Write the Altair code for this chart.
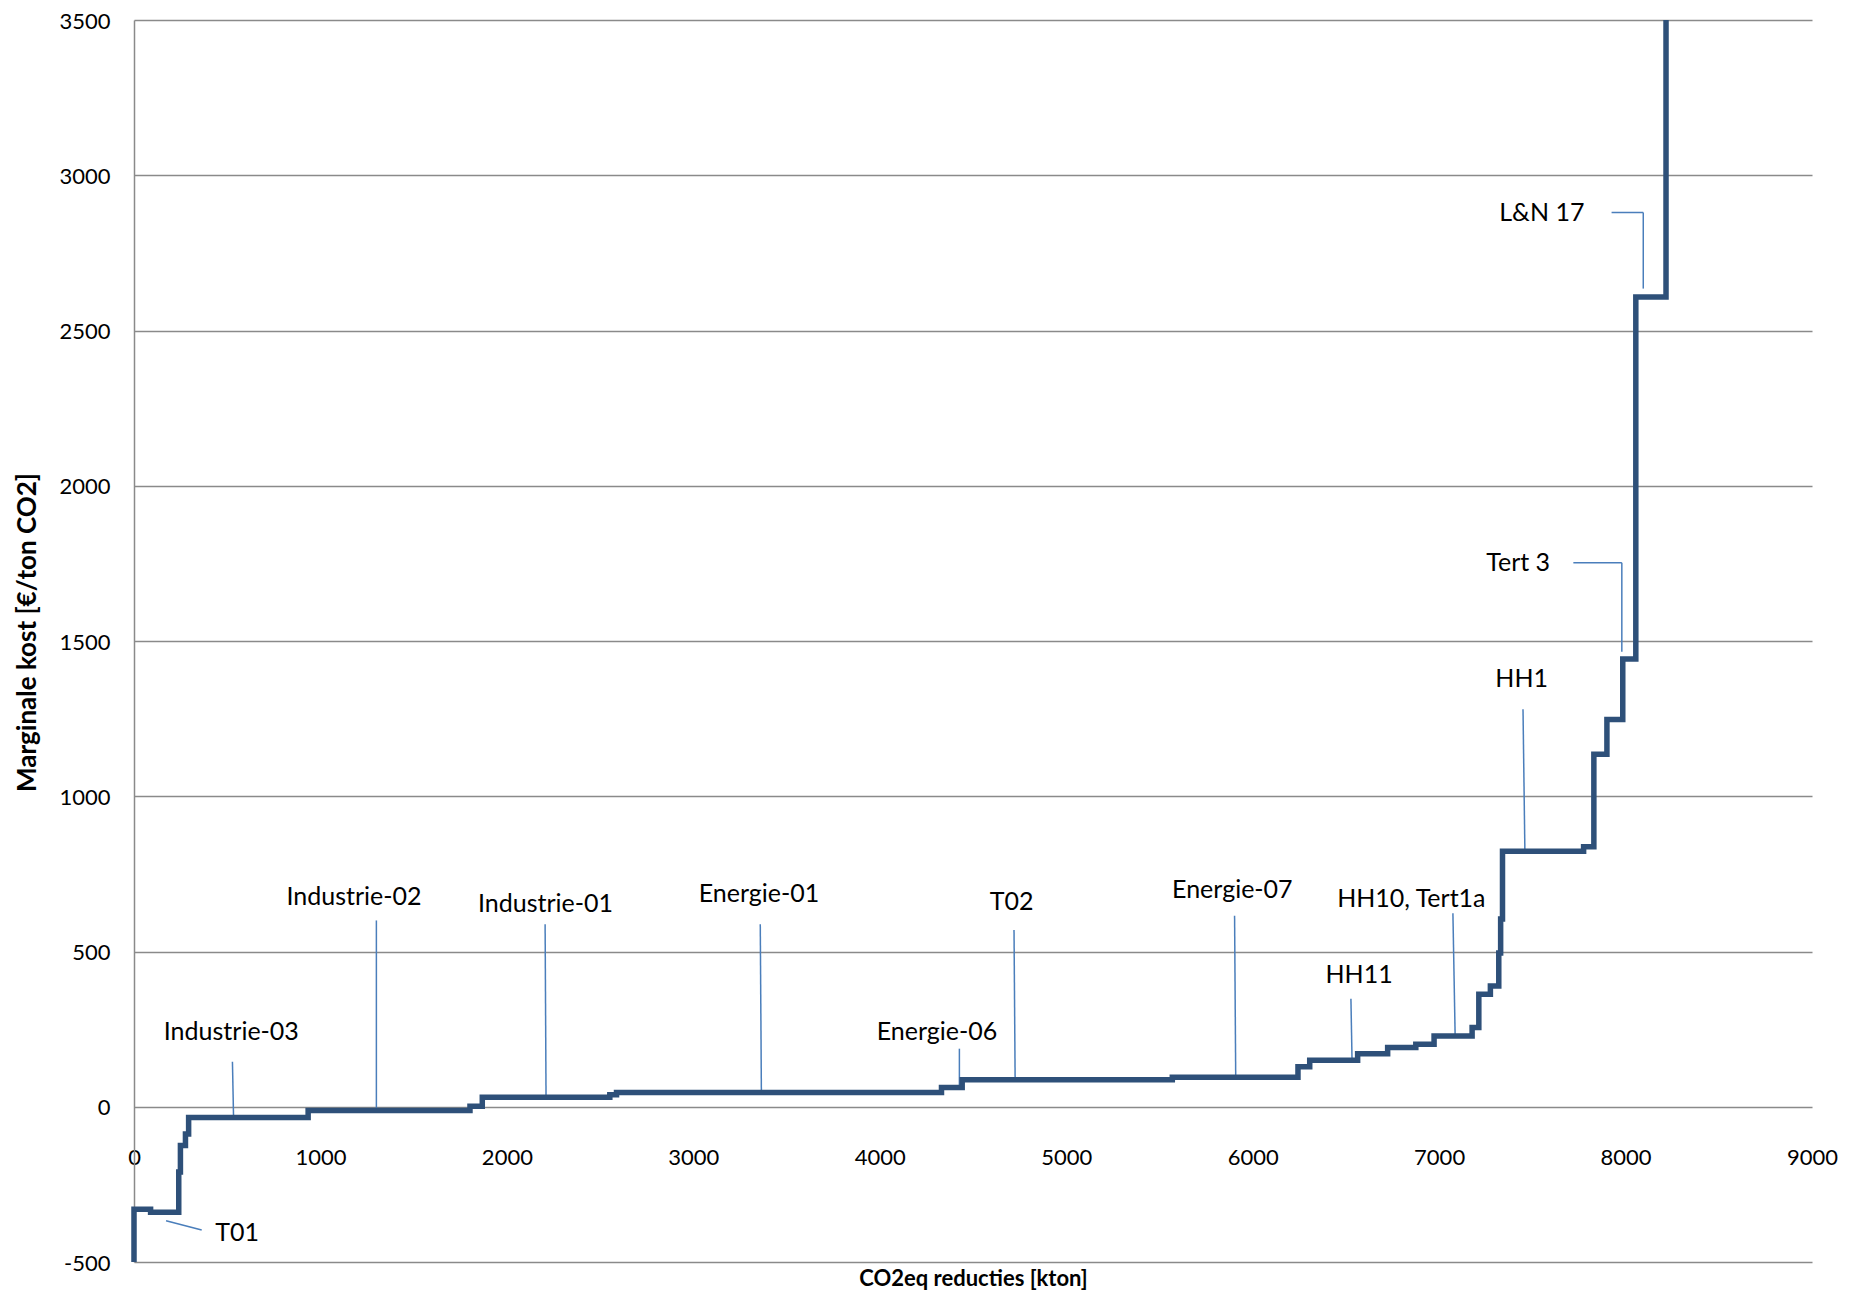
import altair as alt
import pandas as pd

# Step curve: start of each step (kton) and marginal cost (EUR/ton CO2)
step_x = [0, 0, 89, 240, 249, 276, 293, 934, 1802, 1868, 2552, 2588, 4331, 4442,
          5569, 6243, 6306, 6563, 6724, 6875, 6973, 7177, 7213, 7275, 7320, 7330,
          7340, 7775, 7830, 7900, 7985, 8055, 8217]
step_y = [-500, -330, -340, -210, -125, -88, -35, -12, 2, 31, 39, 46, 62, 87,
          95, 129, 150, 171, 191, 201, 228, 255, 362, 389, 495, 605,
          823, 837, 1135, 1247, 1442, 2608, 3500]

# Annotation labels
label_text = ["Industrie-03", "Industrie-02", "Industrie-01", "Energie-01", "Energie-06",
              "T02", "Energie-07", "HH11", "HH10, Tert1a", "HH1", "Tert 3", "L&N 17", "T01"]
label_x = [522, 1180, 2207, 3352, 4307, 4707, 5891, 6571, 6851, 7443, 7424, 7551, 553]
label_y = [241, 675, 653, 684, 241, 661, 699, 424, 668, 1379, 1750, 2880, -405]

# Leader lines
leader_x = [528, 1300, 2205, 3359, 4427, 4720, 5903, 6527, 7074, 7450, 7720, 7980, 7925, 8095, 172]
leader_y = [145, 600, 588, 588, 187, 569, 615, 348, 623, 1280, 1752, 1752, 2880, 2880, -367]
leader_x2 = [534, 1300, 2210, 3365, 4427, 4726, 5909, 6533, 7086, 7460, 7980, 7980, 8095, 8095, 363]
leader_y2 = [-35, -15, 34, 46, 62, 87, 97, 150, 228, 825, 1752, 1465, 2880, 2635, -397]

x_ticks = [0, 1000, 2000, 3000, 4000, 5000, 6000, 7000, 8000, 9000]
y_ticks = [-500, 0, 500, 1000, 1500, 2000, 2500, 3000, 3500]

step_df = pd.DataFrame({"x": step_x, "y": step_y, "i": list(range(len(step_x)))})
label_df = pd.DataFrame({"t": label_text, "x": label_x, "y": label_y})
leader_df = pd.DataFrame({"x": leader_x, "y": leader_y, "x2": leader_x2, "y2": leader_y2})

FONT = "Lato"
GRID = "#8a8a8a"

xs = alt.Scale(domain=[0, 9000], nice=False, zero=False)
ys = alt.Scale(domain=[-500, 3500], nice=False, zero=False)

x_axis = alt.Axis(values=x_ticks, title="CO2eq reducties [kton]", grid=False, domain=False,
                  ticks=False, tickSize=0, labelPadding=50, labelBaseline="middle",
                  labelExpr="'' + datum.value",
                  labelFont=FONT, labelFontSize=22, labelColor="black", offset=-155,
                  titleFont=FONT, titleFontSize=22, titleFontWeight="bold", titleColor="black",
                  titleY=171, titleBaseline="middle", labelFlush=False)
y_axis = alt.Axis(values=y_ticks, title="Marginale kost  [€/ton CO2]", grid=True, gridColor=GRID,
                  gridWidth=1.5, domain=True, domainColor=GRID, domainWidth=1.5,
                  ticks=False, tickSize=0, labelPadding=24,
                  labelExpr="'' + datum.value",
                  labelBaseline="alphabetic", labelOffset=8,
                  labelFont=FONT, labelFontSize=22, labelColor="black",
                  titleFont=FONT, titleFontSize=26, titleFontWeight="bold", titleColor="black",
                  titleX=-107, titleY=612, titleBaseline="middle", labelFlush=False)

line = alt.Chart(step_df).mark_line(interpolate="step-after", color="#2E5079",
                                    strokeWidth=5.5, strokeJoin="miter").encode(
    x=alt.X("x:Q", scale=xs, axis=x_axis),
    y=alt.Y("y:Q", scale=ys, axis=y_axis),
    order=alt.Order("i:Q"),
)

leaders = alt.Chart(leader_df).mark_rule(color="#4A7EBB", strokeWidth=1.5).encode(
    x=alt.X("x:Q", scale=xs), y=alt.Y("y:Q", scale=ys),
    x2="x2:Q", y2="y2:Q",
)

labels = alt.Chart(label_df).mark_text(font=FONT, fontSize=25, align="center",
                                       baseline="middle", color="black").encode(
    x=alt.X("x:Q", scale=xs), y=alt.Y("y:Q", scale=ys), text="t:N",
)

chart = alt.layer(leaders, line, labels).properties(
    width=1678, height=1242,
    padding={"left": 126, "top": 12, "right": 30, "bottom": 30},
    autosize=alt.AutoSizeParams(type="none"),
    background="white",
).configure_view(stroke=None)

chart.save("out.html", embed_options={"renderer": "svg", "actions": False})
